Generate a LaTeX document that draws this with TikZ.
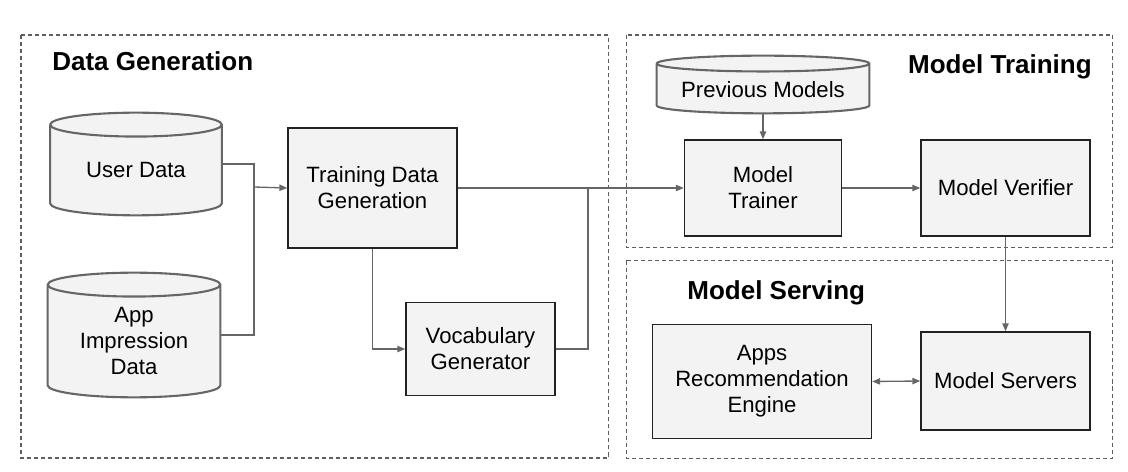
\documentclass[tikz,border=0pt]{standalone}
\usepackage{fontspec}
\setmainfont{Liberation Sans}
\usetikzlibrary{calc,arrows.meta}
\definecolor{boxfill}{HTML}{F3F3F3}
\definecolor{boxline}{HTML}{222222}
\definecolor{dbgray}{HTML}{666666}
\definecolor{wire}{HTML}{666666}
\definecolor{frameline}{HTML}{5F5F5F}
\tikzset{
  box/.style={rectangle, draw=boxline, line width=0.85pt, fill=boxfill, align=center, inner sep=0pt, font=\fontsize{12.6}{14.8}\selectfont},
  db/.style={rectangle, inner sep=0pt},
  dbedge/.style={draw=dbgray, fill=boxfill, line width=1.2pt, line join=round},
  dbtext/.style={inner sep=0pt, align=center, font=\fontsize{12.6}{14.8}\selectfont},
  frame/.style={draw=frameline, line width=0.6pt, dash pattern=on 2.3pt off 1.7pt},
  title/.style={inner sep=0pt, font=\fontsize{14.8}{17}\selectfont\bfseries},
  wireline/.style={draw=wire, line width=0.75pt},
  flow/.style={wireline, -{Triangle[length=4.5pt,width=3.6pt]}},
  both/.style={wireline, {Triangle[length=4.5pt,width=3.6pt]}-{Triangle[length=4.5pt,width=3.6pt]}}
}
% cylinder outline round a db node: #1 node, #2 radius of the end ellipses
\newcommand\dbshape[2]{%
  \draw[dbedge] let \p1=(#1.north west), \p2=(#1.south east), \n1={(\x2-\x1)/2} in
    (\x1,\y1-#2) -- (\x1,\y2+#2)
    arc[start angle=180, end angle=360, x radius=\n1, y radius=#2] -- (\x2,\y1-#2)
    arc[start angle=0, end angle=180, x radius=\n1, y radius=#2]
    arc[start angle=180, end angle=360, x radius=\n1, y radius=#2];}
\begin{document}
\begin{tikzpicture}[x=0.02cm, y=-0.02cm]
\useasboundingbox (0,0) rectangle (1128,472);
% dashed groups
\draw[frame] (21,35) rectangle (608.5,458);
\draw[frame] (626.5,35) rectangle (1112.5,247.5);
\draw[frame] (626.5,260.5) rectangle (1112.5,458.5);
\node[title, anchor=base west] (tgen) at (52,71){Data Generation};
\node[title, anchor=base east] (ttrain) at (1092,73.5){Model Training};
\node[title, anchor=base west] (tserve) at (687,299.5){Model Serving};
% data generation
\node[db, minimum width=3.42cm, minimum height=2.04cm] (ud) at (136,164){};
\dbshape{ud}{6.8pt}
\node[dbtext, yshift=-0.12cm] (udt) at (ud.center){User Data};
\node[db, minimum width=3.44cm, minimum height=2.48cm] (aid) at (134,335){};
\dbshape{aid}{6.8pt}
\node[dbtext, yshift=-0.12cm] (aidt) at (aid.center){App\\Impression\\Data};
\node[box, minimum width=3.38cm, minimum height=2.4cm] (tdg) at (372.5,188){Training Data\\Generation};
\node[box, minimum width=2.98cm, minimum height=1.86cm] (voc) at (480.5,349){Vocabulary\\Generator};
\coordinate (jin) at (254,187);
\coordinate (jout) at (588,187);
\draw[wireline] (ud.east) -| (jin);
\draw[wireline] (aid.east) -| (jin);
\draw[flow] (jin) -- (tdg.west);
\draw[flow] (tdg.south) |- (voc.west);
\draw[wireline] (voc.east) -| (jout);
% model training
\node[db, minimum width=4.24cm, minimum height=1.14cm] (pm) at (763,84.5){};
\dbshape{pm}{4.5pt}
\node[dbtext, yshift=-0.11cm] (pmt) at (pm.center){Previous Models};
\node[box, minimum width=3.14cm, minimum height=1.92cm] (mt) at (763,188){Model\\Trainer};
\node[box, minimum width=3.38cm, minimum height=1.92cm] (mv) at (1005.5,188){Model Verifier};
\draw[flow] (tdg.east) -- (mt.west);
\draw[flow] (pm.south) -- (mt.north);
\draw[flow] (mt.east) -- (mv.west);
% model serving
\node[box, minimum width=4.38cm, minimum height=2.28cm] (are) at (762,381.5){Apps\\Recommendation\\Engine};
\node[box, minimum width=3.38cm, minimum height=1.96cm] (ms) at (1005.5,381){Model Servers};
\draw[flow] (mv.south) -- (ms.north);
\draw[both] (are.east) -- (ms.west);
\end{tikzpicture}
\end{document}
